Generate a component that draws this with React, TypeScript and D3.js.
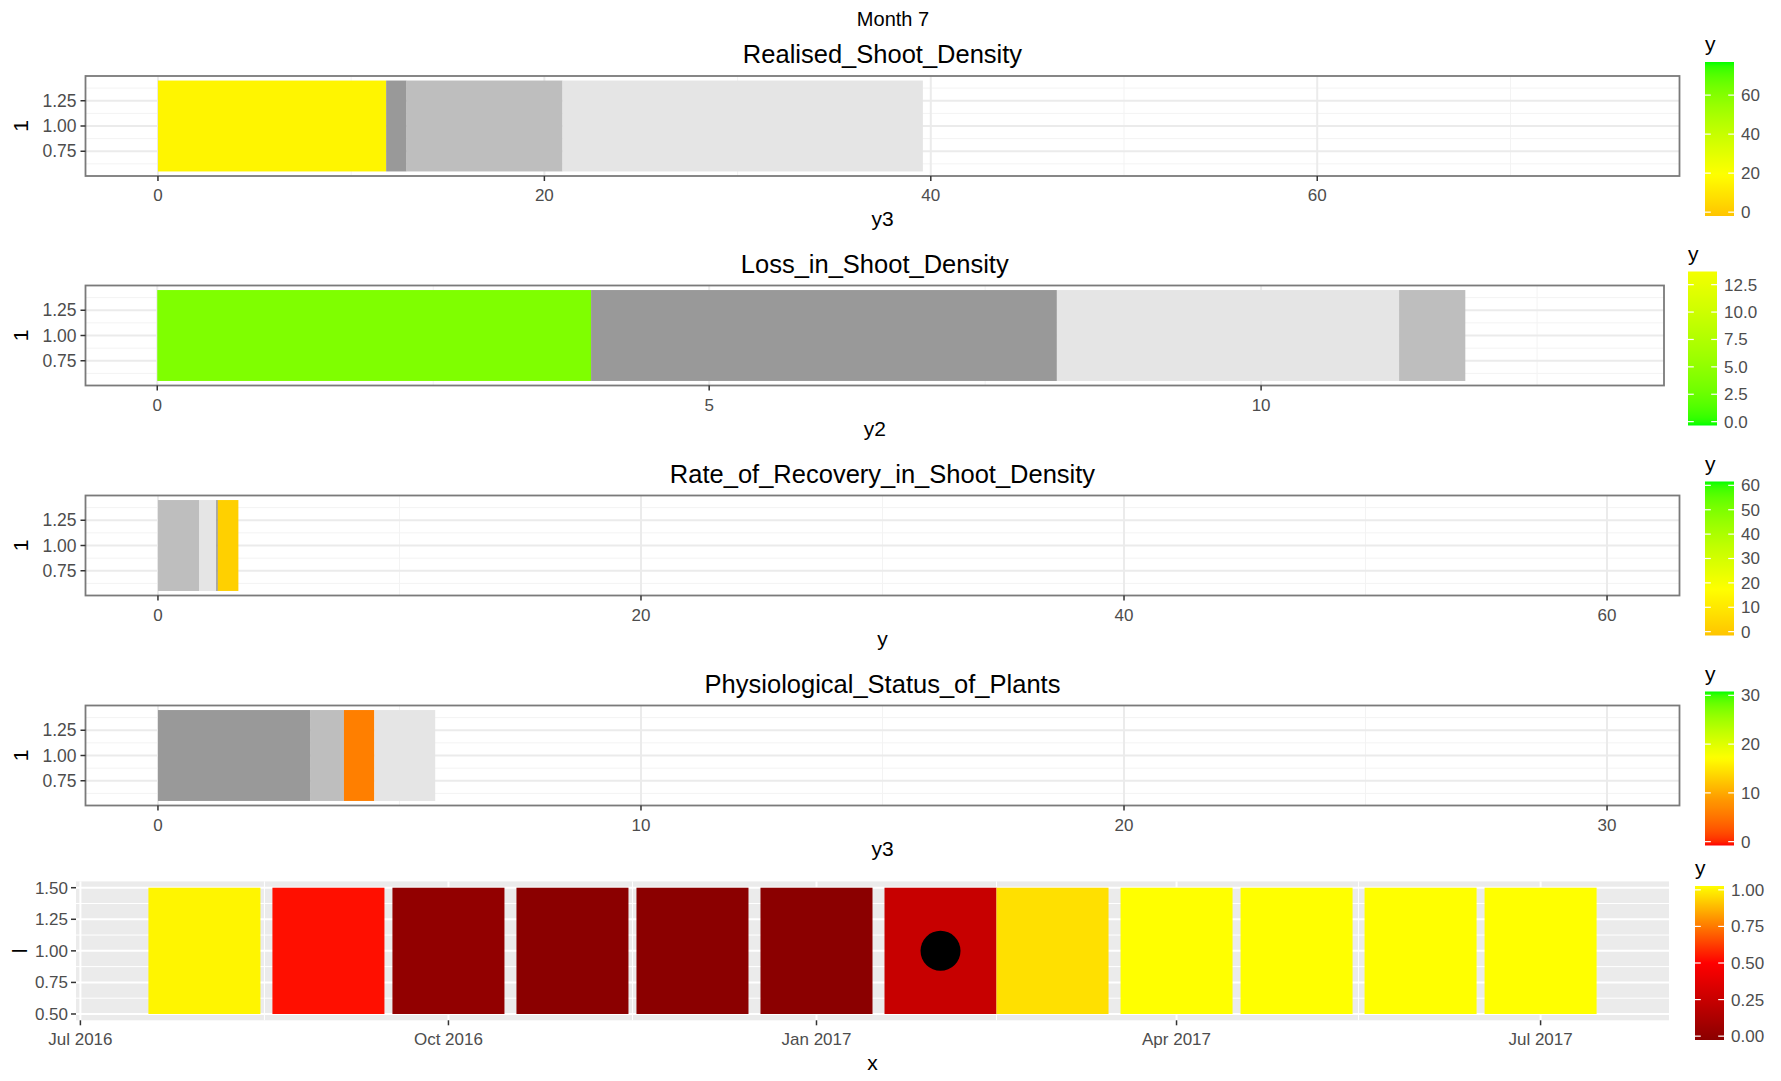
import React from "react";
import * as d3 from "d3";

const W = 1781;
const H = 1081;
const FONT = "'Liberation Sans', Arial, Helvetica, sans-serif";
const TICK_TEXT = "#4D4D4D";

// Stacked bands per indicator: the measured band plus the grey threshold bands
const realisedValues = [11.81, 1.06, 8.07, 18.65];
const realisedFills = ["#FFF500", "#999999", "#BEBEBE", "#E5E5E5"];
const lossValues = [3.93, 4.22, 3.1, 0.6];
const lossFills = ["#7FFF00", "#999999", "#E5E5E5", "#BEBEBE"];
const recoveryValues = [1.7, 0.71, 0.07, 0.85];
const recoveryFills = ["#BEBEBE", "#E5E5E5", "#999999", "#FFD000"];
const physioValues = [3.16, 0.69, 0.63, 1.26];
const physioFills = ["#999999", "#BEBEBE", "#FF7F00", "#E5E5E5"];

// Axis limits and ticks for the bar panels
const realisedMax = 75;
const realisedTicks = [0, 20, 40, 60];
const lossMax = 13;
const lossTicks = [0, 5, 10];
const recoveryMax = 60;
const recoveryTicks = [0, 20, 40, 60];
const physioMax = 30;
const physioTicks = [0, 10, 20, 30];
const bandTicks = [0.75, 1.0, 1.25];

// Colour-bar ticks
const realisedLegendTicks = [0, 20, 40, 60];
const lossLegendTicks = [0, 2.5, 5, 7.5, 10, 12.5];
const recoveryLegendTicks = [0, 10, 20, 30, 40, 50, 60];
const physioLegendTicks = [0, 10, 20, 30];
const scoreLegendTicks = [0, 0.25, 0.5, 0.75, 1];

// Monthly score timeline
const tileMonths = [
  "2016-08-01", "2016-09-01", "2016-10-01", "2016-11-01", "2016-12-01", "2017-01-01",
  "2017-02-01", "2017-03-01", "2017-04-01", "2017-05-01", "2017-06-01", "2017-07-01",
];
const tileScores = [0.98, 0.53, 0.03, 0, 0, 0, 0.26, 0.94, 1, 1, 1, 1];
const currentMonth = 7;
const dateTicks = ["2016-07-01", "2016-10-01", "2017-01-01", "2017-04-01", "2017-07-01"];
const scoreTicks = [0.5, 0.75, 1.0, 1.25, 1.5];

// Colour scales
const realisedColor = d3.scaleLinear<string>().domain([0, 20, 75]).range(["#FFC400", "#FFFF00", "#00FF00"]).interpolate(d3.interpolateLab);
const lossColor = d3.scaleLinear<string>().domain([0, 14.5]).range(["#00FF00", "#FFFF00"]).interpolate(d3.interpolateLab);
const recoveryColor = d3.scaleLinear<string>().domain([0, 18, 60]).range(["#FFC400", "#FFFF00", "#00FF00"]).interpolate(d3.interpolateLab);
const physioColor = d3.scaleLinear<string>().domain([0, 9, 17, 30]).range(["#FF0000", "#FF9900", "#FFFF00", "#00FF00"]).interpolate(d3.interpolateLab);
const scoreColor = d3.scaleLinear<string>().domain([0, 0.5, 1]).range(["#8B0000", "#FF0000", "#FFFF00"]).interpolate(d3.interpolateRgb);

type LegendProps = {
  id: string;
  x: number;
  top: number;
  domain: [number, number];
  ticks: number[];
  fmt: (v: number) => string;
  color: (v: number) => string;
};

function ColorBar({ id, x, top, domain, ticks, fmt, color }: LegendProps) {
  const w = 29;
  const h = 154;
  const pad = h * 0.025;
  const s = d3.scaleLinear().domain(domain).range([top + h - pad, top + pad]);
  const stops = d3.range(41).map((i) => {
    const t = i / 40;
    const v = domain[0] + (domain[1] - domain[0]) * t;
    return { offset: `${t * 100}%`, c: color(v) };
  });
  return (
    <g>
      <defs>
        <linearGradient id={id} x1="0" y1="1" x2="0" y2="0">
          {stops.map((s0, i) => (
            <stop key={i} offset={s0.offset} stopColor={s0.c} />
          ))}
        </linearGradient>
      </defs>
      <text x={x} y={top - 11} fontSize={21} fontFamily={FONT} fill="#000">y</text>
      <rect x={x} y={top} width={w} height={h} fill={`url(#${id})`} />
      {ticks.map((t) => (
        <g key={t}>
          <line x1={x} x2={x + w / 5} y1={s(t)} y2={s(t)} stroke="#fff" strokeWidth={1.2} />
          <line x1={x + w - w / 5} x2={x + w} y1={s(t)} y2={s(t)} stroke="#fff" strokeWidth={1.2} />
          <text x={x + w + 7} y={s(t)} dy="0.35em" fontSize={17} fontFamily={FONT} fill={TICK_TEXT}>
            {fmt(t)}
          </text>
        </g>
      ))}
    </g>
  );
}

type BarPanelProps = {
  top: number;
  left: number;
  right: number;
  title: string;
  axisTitle: string;
  xMax: number;
  ticks: number[];
  values: number[];
  fills: string[];
  fmt: (v: number) => string;
};

function BarPanel({ top, left, right, title, axisTitle, xMax, ticks, values, fills, fmt }: BarPanelProps) {
  const height = 100;
  const bottom = top + height;
  const x = d3.scaleLinear().domain([-0.05 * xMax, 1.05 * xMax]).range([left, right]);
  const bandLo = 0.55;
  const bandHi = 1.45;
  const ex = (bandHi - bandLo) * 0.05;
  const y = d3.scaleLinear().domain([bandLo - ex, bandHi + ex]).range([bottom, top]);
  const step = ticks[1] - ticks[0];
  const xMinor = d3.range(ticks[0] - step / 2, 1.05 * xMax, step).filter((v) => v > -0.05 * xMax);
  const yMinor = [0.625, 0.875, 1.125, 1.375];
  const ends = Array.from(d3.cumsum(values));
  const starts = [0, ...ends.slice(0, -1)];
  const cx = (left + right) / 2;
  return (
    <g fontFamily={FONT}>
      <text x={cx} y={top - 13} textAnchor="middle" fontSize={25.5} fill="#000">{title}</text>
      <rect x={left} y={top} width={right - left} height={height} fill="#fff" />
      {xMinor.map((v) => (
        <line key={"xm" + v} x1={x(v)} x2={x(v)} y1={top} y2={bottom} stroke="#F3F3F3" strokeWidth={1} />
      ))}
      {yMinor.map((v) => (
        <line key={"ym" + v} x1={left} x2={right} y1={y(v)} y2={y(v)} stroke="#F3F3F3" strokeWidth={1} />
      ))}
      {ticks.map((v) => (
        <line key={"xM" + v} x1={x(v)} x2={x(v)} y1={top} y2={bottom} stroke="#EBEBEB" strokeWidth={2} />
      ))}
      {bandTicks.map((v) => (
        <line key={"yM" + v} x1={left} x2={right} y1={y(v)} y2={y(v)} stroke="#EBEBEB" strokeWidth={2} />
      ))}
      {values.map((v, i) => (
        <rect
          key={"b" + i}
          x={x(starts[i])}
          width={x(ends[i]) - x(starts[i])}
          y={y(bandHi)}
          height={y(bandLo) - y(bandHi)}
          fill={fills[i]}
        />
      ))}
      <rect x={left} y={top} width={right - left} height={height} fill="none" stroke="#7A7A7A" strokeWidth={1.8} />
      {ticks.map((v) => (
        <g key={"xt" + v}>
          <line x1={x(v)} x2={x(v)} y1={bottom} y2={bottom + 5} stroke="#333" strokeWidth={1.5} />
          <text x={x(v)} y={bottom + 25} textAnchor="middle" fontSize={17} fill={TICK_TEXT}>{fmt(v)}</text>
        </g>
      ))}
      {bandTicks.map((v) => (
        <g key={"yt" + v}>
          <line x1={left - 5} x2={left} y1={y(v)} y2={y(v)} stroke="#333" strokeWidth={1.5} />
          <text x={left - 9} y={y(v)} dy="0.35em" textAnchor="end" fontSize={17.5} fill={TICK_TEXT}>
            {d3.format(".2f")(v)}
          </text>
        </g>
      ))}
      <text x={cx} y={bottom + 50} textAnchor="middle" fontSize={21} fill="#000">{axisTitle}</text>
      <text
        transform={`translate(28,${y(1)}) rotate(-90)`}
        textAnchor="middle"
        fontSize={21}
        fill="#000"
      >
        1
      </text>
    </g>
  );
}

function TimelinePanel() {
  const left = 76;
  const right = 1669;
  const top = 881.4;
  const bottom = 1020.3;
  const dates = tileMonths.map((d) => new Date(d + "T00:00:00Z"));
  const gaps = dates.slice(1).map((d, i) => d.getTime() - dates[i].getTime());
  const tileW = d3.min(gaps) as number;
  const lo = dates[0].getTime() - tileW / 2;
  const hi = dates[dates.length - 1].getTime() + tileW / 2;
  const ex = (hi - lo) * 0.05;
  const x = d3.scaleUtc().domain([new Date(lo - ex), new Date(hi + ex)]).range([left, right]);
  const y = d3.scaleLinear().domain([0.45, 1.55]).range([bottom, top]);
  const ticks = dateTicks.map((d) => new Date(d + "T00:00:00Z"));
  const minorX = ticks
    .slice(0, -1)
    .map((d, i) => new Date((d.getTime() + ticks[i + 1].getTime()) / 2));
  const minorY = [0.625, 0.875, 1.125, 1.375];
  const fmt = d3.utcFormat("%b %Y");
  const cur = dates[currentMonth - 1];
  return (
    <g fontFamily={FONT}>
      <rect x={left} y={top} width={right - left} height={bottom - top} fill="#EBEBEB" />
      {minorX.map((d, i) => (
        <line key={"mx" + i} x1={x(d)} x2={x(d)} y1={top} y2={bottom} stroke="#fff" strokeWidth={1} />
      ))}
      {minorY.map((v) => (
        <line key={"my" + v} x1={left} x2={right} y1={y(v)} y2={y(v)} stroke="#fff" strokeWidth={1} />
      ))}
      {ticks.map((d, i) => (
        <line key={"Mx" + i} x1={x(d)} x2={x(d)} y1={top} y2={bottom} stroke="#fff" strokeWidth={2} />
      ))}
      {scoreTicks.map((v) => (
        <line key={"My" + v} x1={left} x2={right} y1={y(v)} y2={y(v)} stroke="#fff" strokeWidth={2} />
      ))}
      {dates.map((d, i) => (
        <rect
          key={"t" + i}
          x={x(new Date(d.getTime() - tileW / 2))}
          width={x(new Date(d.getTime() + tileW / 2)) - x(new Date(d.getTime() - tileW / 2))}
          y={y(1.5)}
          height={y(0.5) - y(1.5)}
          fill={scoreColor(tileScores[i])}
        />
      ))}
      <circle cx={x(cur)} cy={y(1)} r={20} fill="#000" />
      {ticks.map((d, i) => (
        <g key={"xt" + i}>
          <line x1={x(d)} x2={x(d)} y1={bottom} y2={bottom + 5} stroke="#333" strokeWidth={1.5} />
          <text x={x(d)} y={bottom + 25} textAnchor="middle" fontSize={17} fill={TICK_TEXT}>{fmt(d)}</text>
        </g>
      ))}
      {scoreTicks.map((v) => (
        <g key={"yt" + v}>
          <line x1={left - 5} x2={left} y1={y(v)} y2={y(v)} stroke="#333" strokeWidth={1.5} />
          <text x={left - 8} y={y(v)} dy="0.35em" textAnchor="end" fontSize={17} fill={TICK_TEXT}>
            {d3.format(".2f")(v)}
          </text>
        </g>
      ))}
      <text x={(left + right) / 2} y={1070} textAnchor="middle" fontSize={21} fill="#000">x</text>
      <text transform={`translate(27,${y(1)}) rotate(-90)`} textAnchor="middle" fontSize={21} fill="#000">l</text>
    </g>
  );
}

export default function App() {
  const tops = [76, 285.5, 495.5, 705.5];
  const f0 = d3.format("d");
  const f1 = d3.format(".1f");
  const f2 = d3.format(".2f");
  return (
    <svg
      width={W}
      height={H}
      viewBox={`0 0 ${W} ${H}`}
      style={{ position: "absolute", left: 0, top: 0, background: "#fff" }}
    >
      <rect width={W} height={H} fill="#fff" />
      <text x={893} y={26} textAnchor="middle" fontSize={20} fontFamily={FONT} fill="#000">
        Month {currentMonth}
      </text>

      <BarPanel top={tops[0]} left={85.5} right={1679.5} title="Realised_Shoot_Density" axisTitle="y3"
        xMax={realisedMax} ticks={realisedTicks} values={realisedValues} fills={realisedFills} fmt={f0} />
      <ColorBar id="g1" x={1705} top={tops[0] - 14} domain={[0, 75]} ticks={realisedLegendTicks} fmt={f0} color={realisedColor} />

      <BarPanel top={tops[1]} left={85.5} right={1664} title="Loss_in_Shoot_Density" axisTitle="y2"
        xMax={lossMax} ticks={lossTicks} values={lossValues} fills={lossFills} fmt={f0} />
      <ColorBar id="g2" x={1688} top={tops[1] - 14} domain={[0, 13.35]} ticks={lossLegendTicks} fmt={f1} color={lossColor} />

      <BarPanel top={tops[2]} left={85.5} right={1679.5} title="Rate_of_Recovery_in_Shoot_Density" axisTitle="y"
        xMax={recoveryMax} ticks={recoveryTicks} values={recoveryValues} fills={recoveryFills} fmt={f0} />
      <ColorBar id="g3" x={1705} top={tops[2] - 14} domain={[0, 60]} ticks={recoveryLegendTicks} fmt={f0} color={recoveryColor} />

      <BarPanel top={tops[3]} left={85.5} right={1679.5} title="Physiological_Status_of_Plants" axisTitle="y3"
        xMax={physioMax} ticks={physioTicks} values={physioValues} fills={physioFills} fmt={f0} />
      <ColorBar id="g4" x={1705} top={tops[3] - 14} domain={[0, 30]} ticks={physioLegendTicks} fmt={f0} color={physioColor} />

      <TimelinePanel />
      <ColorBar id="g5" x={1695} top={886} domain={[0, 1]} ticks={scoreLegendTicks} fmt={f2} color={scoreColor} />
    </svg>
  );
}
